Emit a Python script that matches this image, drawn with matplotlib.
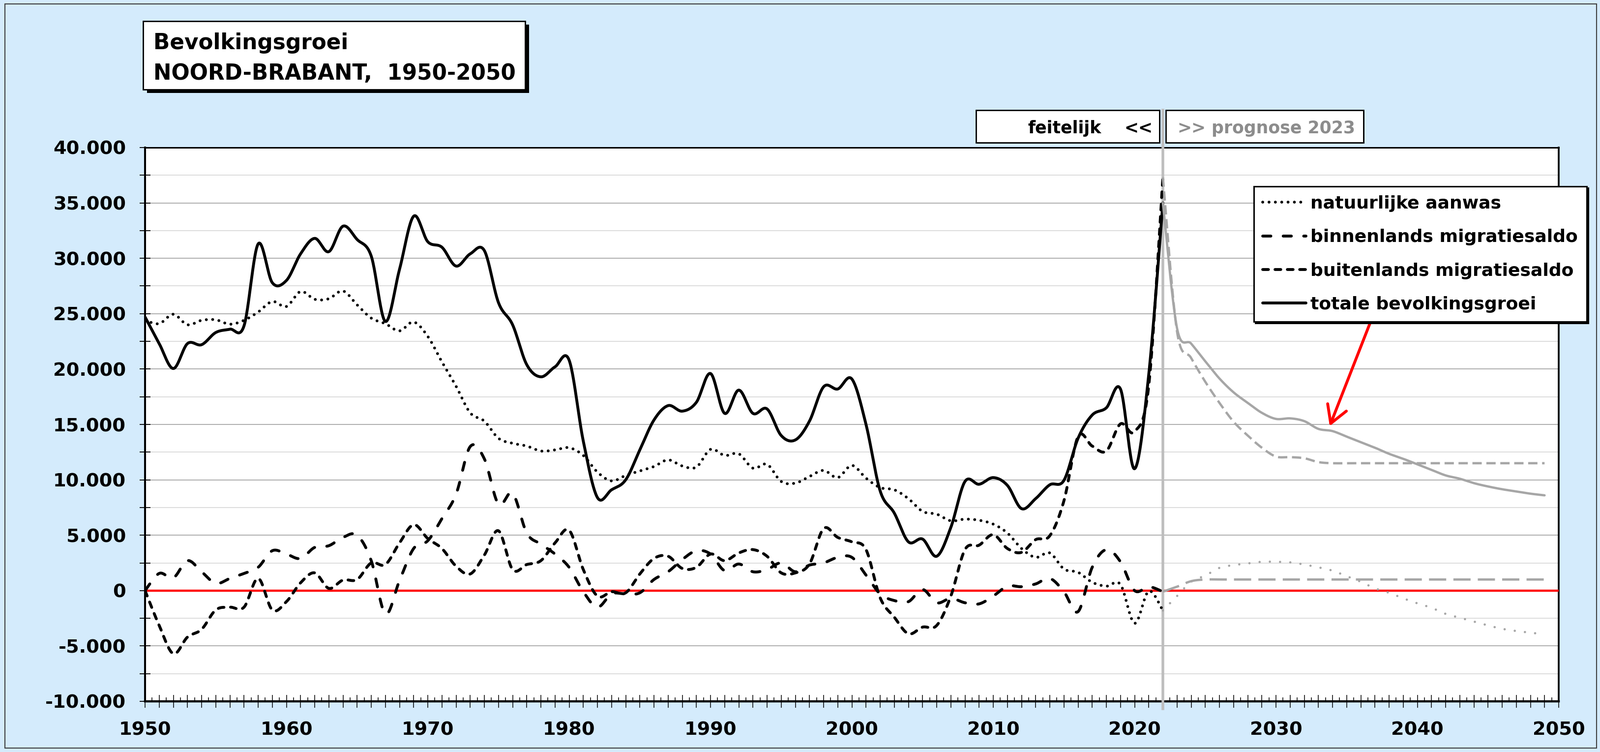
import numpy as np
import matplotlib
matplotlib.use("Agg")
import matplotlib.pyplot as plt
from matplotlib.patches import Rectangle
from matplotlib.lines import Line2D
from matplotlib.ticker import FixedLocator, FuncFormatter
import matplotlib.transforms as mtransforms

# ---------------- data ----------------
years_act = list(range(1950, 2023))

natural = [24400, 24100, 24950, 24000, 24400, 24450, 24050, 24400, 25150, 26100,
           25650, 27000, 26300, 26350, 27050, 25800, 24600, 24100, 23450, 24250,
           22950, 20650, 18450, 16050, 15300, 13750, 13300, 13050, 12600, 12700,
           12900, 12200, 10700, 9900, 10400, 10800, 11200, 11800, 11250, 11150,
           12750, 12200, 12350, 11050, 11400, 9850, 9700, 10300, 10850, 10200,
           11300, 10150, 9300, 9100, 8300, 7150, 6900, 6300, 6450, 6350,
           6000, 5200, 3800, 3000, 3400, 1950, 1650, 750, 400, 550,
           -2950, -50, -1800]

binnen = [0, 1550, 1150, 2700, 1700, 650, 1100, 1550, 2100, 3600,
          3300, 2900, 3900, 4050, 4800, 5000, 2700, -2100, 900, 3800,
          4500, 6500, 8700, 13000, 11900, 7800, 8800, 5200, 4200, 3300,
          2100, -100, -1500, -300, -300, -200, 1000, 1700, 2800, 3600,
          3300, 1800, 2400, 1700, 1900, 2500, 1700, 2300, 2500, 3000,
          3000, 1400, -300, -900, -1000, 100, -1100, -700, -1100, -1200,
          -500, 400, 350, 600, 1100, -100, -1900, 2100, 3700, 2600,
          0, 350, -100]

buiten = [0, -3150, -5700, -4200, -3500, -1750, -1500, -1500, 1100, -1750,
          -1000, 700, 1600, 200, 950, 1000, 2500, 2350, 4300, 5950,
          4700, 3800, 2200, 1500, 3200, 5400, 1900, 2350, 2700, 4300,
          5450, 1900, -500, -100, -200, 1500, 2900, 3100, 2000, 2100,
          3300, 2700, 3400, 3700, 3100, 1600, 1600, 2400, 5600, 4800,
          4400, 3700, -650, -2400, -3900, -3300, -3150, -500, 3700, 4100,
          5050, 3800, 3450, 4600, 4950, 8100, 13900, 13050, 12600, 15050,
          14350, 18500, 37300]

total = [24700, 22300, 20050, 22300, 22200, 23300, 23600, 23900, 31300, 27800,
         28000, 30400, 31800, 30600, 32900, 31700, 30200, 24300, 29000, 33800,
         31500, 31000, 29300, 30400, 30700, 26000, 24000, 20400, 19300, 20200,
         20800, 13500, 8400, 9100, 10000, 12700, 15400, 16700, 16200, 17000,
         19600, 16000, 18100, 16000, 16400, 14000, 13600, 15300, 18400, 18200,
         19100, 15000, 9000, 7000, 4400, 4650, 3100, 5700, 9850, 9600,
         10200, 9500, 7400, 8300, 9550, 9950, 13750, 15850, 16500, 18200,
         11000, 19500, 35000]

years_fc = list(range(2022, 2050))
natural_fc = [-1800, -500, 800, 1350, 2050, 2300, 2450, 2600, 2600, 2550,
              2350, 2100, 1800, 1300, 800, 200, -200, -700, -1150, -1550,
              -2100, -2450, -2800, -3150, -3450, -3650, -3800, -3950]
binnen_fc = [-100, 350, 850, 1000, 1000, 1000, 1000, 1000, 1000, 1000,
             1000, 1000, 1000, 1000, 1000, 1000, 1000, 1000, 1000, 1000,
             1000, 1000, 1000, 1000, 1000, 1000, 1000, 1000]
buiten_fc = [37300, 23400, 21000, 18850, 16950, 15250, 14000, 12900, 12100, 12050,
             11950, 11600, 11500, 11500, 11500, 11500, 11500, 11500, 11500, 11500,
             11500, 11500, 11500, 11500, 11500, 11500, 11500, 11500]
total_fc = [35000, 23700, 22300, 20700, 19150, 17900, 16950, 16050, 15500, 15550,
            15300, 14600, 14400, 13900, 13400, 12900, 12350, 11900, 11400, 10900,
            10400, 10100, 9700, 9400, 9150, 8950, 8750, 8600]

legend_labels = ["natuurlijke aanwas", "binnenlands migratiesaldo",
                 "buitenlands migratiesaldo", "totale bevolkingsgroei"]
title_lines = ["Bevolkingsgroei", "NOORD-BRABANT,  1950-2050"]
y_ticks = [-10000, -5000, 0, 5000, 10000, 15000, 20000, 25000, 30000, 35000, 40000]
x_label_years = [1950, 1960, 1970, 1980, 1990, 2000, 2010, 2020, 2030, 2040, 2050]

# ---------------- helpers ----------------
def smooth(x, y, n=24):
    """Excel-like smoothed line (Bezier / Catmull-Rom) through the data points."""
    P = np.column_stack([np.asarray(x, float), np.asarray(y, float)])
    E = np.vstack([P[0], P, P[-1]])
    t = np.linspace(0, 1, n, endpoint=False)[:, None]
    segs = []
    for i in range(len(P) - 1):
        p0, p1, p2, p3 = E[i], E[i + 1], E[i + 2], E[i + 3]
        c1 = p1 + (p2 - p0) / 6.0
        c2 = p2 - (p3 - p1) / 6.0
        segs.append((1 - t) ** 3 * p1 + 3 * (1 - t) ** 2 * t * c1
                    + 3 * (1 - t) * t ** 2 * c2 + t ** 3 * p2)
    segs.append(P[-1:])
    S = np.vstack(segs)
    return S[:, 0], S[:, 1]

W, H, DPI = 3255, 1529, 100
def fx(px):
    return px / W
def fy(py):
    return 1 - py / H

BG = "#D4EBFC"
GRAY = "#A6A6A6"
plt.rcParams["font.family"] = "DejaVu Sans"

fig = plt.figure(figsize=(W / DPI, H / DPI), dpi=DPI, facecolor=BG)
ax = fig.add_axes([fx(295), fy(1426), fx(3170) - fx(295), fy(300) - fy(1426)])
ax.set_facecolor("white")

LW = 4.2
styles = [
    dict(ls=(0, (0.01, 2.2)), dash_capstyle="round"),
    dict(ls=(0, (2.85, 4.3)), dash_capstyle="round"),
    dict(ls=(0, (2.0, 2.3)), dash_capstyle="round"),
    dict(ls="-", solid_capstyle="round"),
]
GLW = 3.4
gstyles = [
    dict(ls=(0, (0.01, 4.4)), dash_capstyle="round"),
    dict(ls=(0, (7.4, 3.1)), dash_capstyle="butt"),
    dict(ls=(0, (4.0, 2.0)), dash_capstyle="butt"),
    dict(ls="-", solid_capstyle="round"),
]

handles = []
for series, st in zip([natural, binnen, buiten, total], styles):
    sx, sy = smooth(years_act, series)
    h, = ax.plot(sx, sy, color="black", lw=LW, zorder=4, **st)
    handles.append(h)

for series, st in zip([natural_fc, binnen_fc, buiten_fc, total_fc], gstyles):
    sx, sy = smooth(years_fc, series)
    ax.plot(sx, sy, color=GRAY, lw=GLW, zorder=4.5, **st)

ax.axhline(0, color="red", lw=3.2, zorder=3)

# axes limits and ticks
ax.set_xlim(1950, 2050)
ax.set_ylim(-10000, 40000)
ax.yaxis.set_major_locator(FixedLocator(y_ticks))
ax.yaxis.set_minor_locator(FixedLocator(np.arange(-7500, 40000, 5000)))
ax.yaxis.set_major_formatter(FuncFormatter(lambda v, p: f"{v:,.0f}".replace(",", ".")))
ax.xaxis.set_major_locator(FixedLocator(np.arange(1950, 2051, 1)))
ax.xaxis.set_minor_locator(FixedLocator(np.arange(1950.5, 2050, 1)))
ax.xaxis.set_major_formatter(FuncFormatter(
    lambda v, p: f"{int(round(v))}" if int(round(v)) in x_label_years else ""))

ax.grid(True, axis="y", which="major", color="#A8A8A8", lw=1.3, zorder=1)
ax.grid(True, axis="y", which="minor", color="#DADADA", lw=1.3, zorder=1)
ax.set_axisbelow(True)

ax.tick_params(axis="y", which="both", direction="inout", length=16, width=1.3,
               pad=20, labelsize=27.5, colors="black")
ax.tick_params(axis="x", which="major", direction="inout", length=18.7, width=1.1,
               pad=20, labelsize=27.5)
ax.tick_params(axis="x", which="minor", direction="in", length=5.8, width=1.1)
for lab in ax.get_xticklabels() + ax.get_yticklabels():
    lab.set_fontweight("bold")

for side, lw in [("top", 2.2), ("left", 2.9), ("bottom", 3.2), ("right", 2.6)]:
    ax.spines[side].set_linewidth(lw)
    ax.spines[side].set_color("black")

# vertical separator at the last actual year
trans = mtransforms.blended_transform_factory(ax.transData, fig.transFigure)
sep_year = years_act[-1]
ax.add_line(Line2D([sep_year, sep_year], [fy(1441), fy(224)], transform=trans,
                   color="#BEBEBE", lw=4.0, clip_on=False, zorder=3.5))

# legend
leg = ax.legend(handles, legend_labels, loc="upper left",
                bbox_to_anchor=(fx(2550), fy(379)), bbox_transform=fig.transFigure,
                borderaxespad=0, borderpad=0.5, handlelength=2.44,
                handletextpad=0.25, labelspacing=0.95, fancybox=False,
                framealpha=1, edgecolor="black",
                prop={"weight": "bold", "size": 26},
                shadow={"color": "black", "alpha": 1})
leg.get_frame().set_linewidth(2.2)
leg.set_zorder(10)

# red arrow pointing at the forecast total line
i34 = years_fc.index(2034)
ax.annotate("", xy=(years_fc[i34] - 0.2, total_fc[i34] + 450),
            xytext=(2037.1, 25600),
            arrowprops=dict(arrowstyle="->,head_length=0.6,head_width=0.35",
                            color="red", lw=4.2, mutation_scale=42,
                            shrinkA=0, shrinkB=0),
            zorder=6)

# boxes with shadow
def box(x0, y0, x1, y1, shadow_dx, shadow_dy, lw=2.0):
    if shadow_dx or shadow_dy:
        fig.add_artist(Rectangle((fx(x0 + shadow_dx), fy(y1 + shadow_dy)),
                                 fx(x1) - fx(x0), fy(y0) - fy(y1),
                                 transform=fig.transFigure, facecolor="black",
                                 edgecolor="none", zorder=1))
    fig.add_artist(Rectangle((fx(x0), fy(y1)), fx(x1) - fx(x0), fy(y0) - fy(y1),
                             transform=fig.transFigure, facecolor="white",
                             edgecolor="black", lw=lw, zorder=2))

box(291, 43, 1068, 182, 8, 7)
fig.text(fx(312), fy(100), title_lines[0], fontsize=31.5, fontweight="bold",
         ha="left", va="baseline", zorder=3)
fig.text(fx(312), fy(162), title_lines[1], fontsize=31.5, fontweight="bold",
         ha="left", va="baseline", zorder=3)

box(1985, 224, 2358, 290, 2, 2)
fig.text(fx(2240), fy(271), "feitelijk", fontsize=25, fontweight="bold",
         ha="right", va="baseline", zorder=3)
fig.text(fx(2315), fy(271), "<<", fontsize=25, fontweight="bold",
         ha="center", va="baseline", zorder=3)

box(2371, 224, 2773, 290, 2, 2)
fig.text(fx(2394), fy(271), ">>", fontsize=25, fontweight="bold", color="#8C8C8C",
         ha="left", va="baseline", zorder=3)
fig.text(fx(2464), fy(271), f"prognose {years_act[-1] + 1}", fontsize=25,
         fontweight="bold", color="#8C8C8C", ha="left", va="baseline", zorder=3)

# outer frame
fig.add_artist(Rectangle((fx(10), fy(1521)), fx(3247) - fx(10), fy(8) - fy(1521),
                         transform=fig.transFigure, fill=False,
                         edgecolor="#404040", lw=1.5, zorder=0))

fig.savefig("out.png", dpi=DPI, facecolor=fig.get_facecolor())
